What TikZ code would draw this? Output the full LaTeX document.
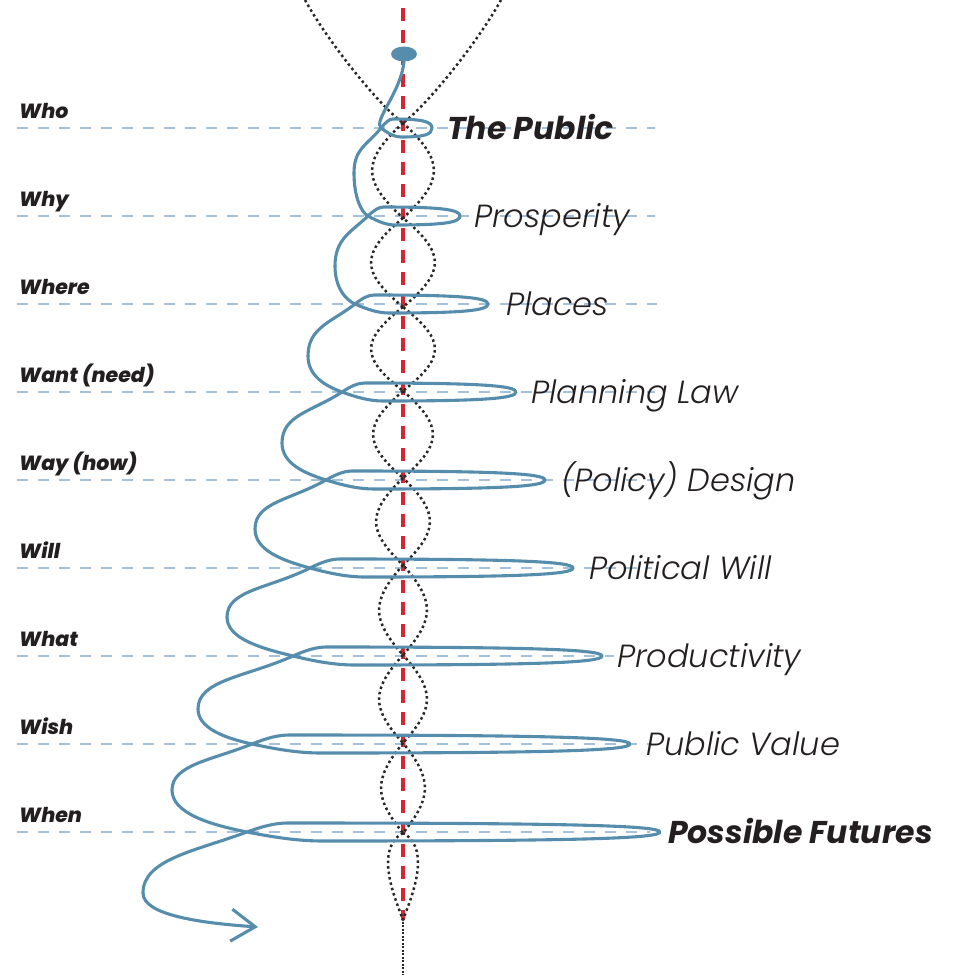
\documentclass[tikz,border=0pt]{standalone}
\usepackage{fontspec}
\usetikzlibrary{arrows.meta,shapes.geometric}
\newfontfamily\basefam{Liberation Sans}
\IfFontExistsTF{Poppins Light Italic}
  {\newfontfamily\lightit{Poppins Light Italic}}
  {\newcommand\lightit{\basefam\itshape}}
\IfFontExistsTF{Poppins Bold Italic}
  {\newfontfamily\boldit{Poppins Bold Italic}}
  {\newcommand\boldit{\basefam\bfseries\itshape}}
\IfFontExistsTF{Poppins ExtraBold Italic}
  {\newfontfamily\heavyit{Poppins ExtraBold Italic}}
  {\newcommand\heavyit{\basefam\bfseries\itshape}}
\definecolor{spiralblue}{RGB}{86,141,172}
\definecolor{guideblue}{RGB}{165,192,218}
\definecolor{axisred}{RGB}{216,38,48}
\definecolor{dotgray}{RGB}{40,40,40}
\definecolor{inkblack}{RGB}{35,31,32}
\begin{document}
\begin{tikzpicture}[x=1pt,y=-1pt,line cap=round,line join=round]
  \tikzset{
    spiral/.style={spiralblue,line width=3.1pt},
    guide/.style={guideblue,line width=1.4pt,dash pattern=on 11pt off 10pt,line cap=butt},
    lens/.style={dotgray,line width=2.5pt,dash pattern=on 2.5pt off 3pt,line cap=butt},
    ask/.style={anchor=base west,inner sep=0pt,text=inkblack,font=\heavyit\fontsize{20.5}{24}\selectfont},
    answer/.style={anchor=base west,inner sep=0pt,text=inkblack,font=\lightit\fontsize{32}{38}\selectfont},
    keyans/.style={answer,font=\boldit\fontsize{31.5}{38}\selectfont}}
  \useasboundingbox (0,0) rectangle (957,975);
  \clip (0,0) rectangle (957,975);
  % question lines
  \foreach \k/\ask/\e in {1/Who/655,2/Why/655,3/Where/657,4/Want (need)/655,5/Way (how)/655,
      6/Will/652,7/What/614,8/Wish/652,9/When/650}{
    \pgfmathsetmacro\y{128+88*(\k-1)}
    \draw[guide] (17,\y) -- (\e,\y);
    \node[ask] (q\k) at (19,{\y-10}) {\ask};
  }
  % axis and dotted envelope
  \draw[axisred,line width=3.4pt,dash pattern=on 13pt off 9pt,line cap=butt] (403,8) -- (403,920);
  \draw[lens] (305,0) .. controls (330,45) and (380,106) .. (403,123)
    .. controls (426,106) and (476,45) .. (501,0);
  \foreach \ya/\yb/\w in {123/218/31,218/307/32,307/391/32,391/478/30,478/565/27,
      565/655/24,655/743/24,743/833/22}{
    \pgfmathsetmacro\h{\yb-\ya}
    \draw[lens] (403,\ya) .. controls ({403-1.33*\w},{\ya+0.4*\h}) and ({403-1.33*\w},{\yb-0.4*\h}) .. (403,\yb)
      .. controls ({403+1.33*\w},{\yb-0.4*\h}) and ({403+1.33*\w},{\ya+0.4*\h}) .. (403,\ya);
  }
  \draw[lens] (403,833) .. controls (372,850) and (398,905) .. (403,920)
    .. controls (408,905) and (434,850) .. (403,833);
  \draw[lens,dash pattern=on 2pt off 1.5pt] (403,918) -- (403,975);
  % the spiral
  \node[ellipse,fill=spiralblue,minimum width=26pt,minimum height=15pt,inner sep=0pt] (knob) at (404,54) {};
  \draw[spiral] (knob.south) .. controls (401,92) and (373,121) .. (381,128);
  \foreach \k/\cx/\rx/\mx/\myy in {1/381/432/354/173,2/368/460/335/266,3/355/488/308/356,
      4/342/516/282/443,5/326/545/255/529,6/310/573/227/617,7/293/602/198/709,
      8/252/630/172/790,9/247/660/143/893}{
    \pgfmathsetmacro\y{128+88*(\k-1)}
    \pgfmathsetmacro\bo{20+7*(\k-1)}
    \pgfmathsetmacro\tp{12+3.6*(\k-1)}
    \draw[spiral] (\cx,\y)
      .. controls ({\cx+0.4*\bo},{\y+6}) and ({\cx+0.7*\bo},{\y+9}) .. ({\cx+\bo},{\y+9})
      .. controls ({\cx+\bo+0.75*(\rx-\cx-\bo)},{\y+9}) and (\rx,{\y+6.5}) .. (\rx,\y)
      .. controls (\rx,{\y-6.5}) and ({\cx+\tp+0.75*(\rx-\cx-\tp)},{\y-9}) .. ({\cx+\tp},{\y-9})
      .. controls ({\cx+0.7*\tp},{\y-9}) and ({\cx+0.4*\tp},{\y-6}) .. (\cx,\y)
      .. controls ({\cx-0.5*(\cx-\mx)},{\y+7.5*(\cx-\mx)/\tp}) and (\mx,{\myy-0.55*(\myy-\y)}) .. (\mx,\myy);
  }
  \foreach \k/\mx/\myy/\cx in {2/354/173/368,3/335/266/355,4/308/356/342,5/282/443/326,
      6/255/529/310,7/227/617/293,8/198/709/252,9/172/790/247}{
    \pgfmathsetmacro\y{128+88*(\k-1)}
    \pgfmathsetmacro\bo{20+7*(\k-1)}
    \draw[spiral] (\mx,\myy) .. controls (\mx,{\myy+0.55*(\y-\myy)})
      and ({\cx-0.5*(\cx-\mx)},{\y-7.5*(\cx-\mx)/\bo}) .. (\cx,\y);
  }
  \coordinate (tail) at (258,927);
  \draw[spiral,-{Straight Barb[length=24pt,width=32pt]}] (143,893) .. controls (143,915) and (200,923) .. (tail);
  % answers
  \foreach \k/\xx/\st/\txt in {1/447/keyans/The Public,2/474/answer/Prosperity,3/506/answer/Places,
      4/531/answer/Planning Law,5/561/answer/(Policy) Design,6/589/answer/Political Will,
      7/617/answer/Productivity,8/646/answer/Public Value,9/668/keyans/Possible Futures}{
    \node[\st] (a\k) at (\xx,{128+88*(\k-1)+11}) {\txt};
  }
\end{tikzpicture}
\end{document}
